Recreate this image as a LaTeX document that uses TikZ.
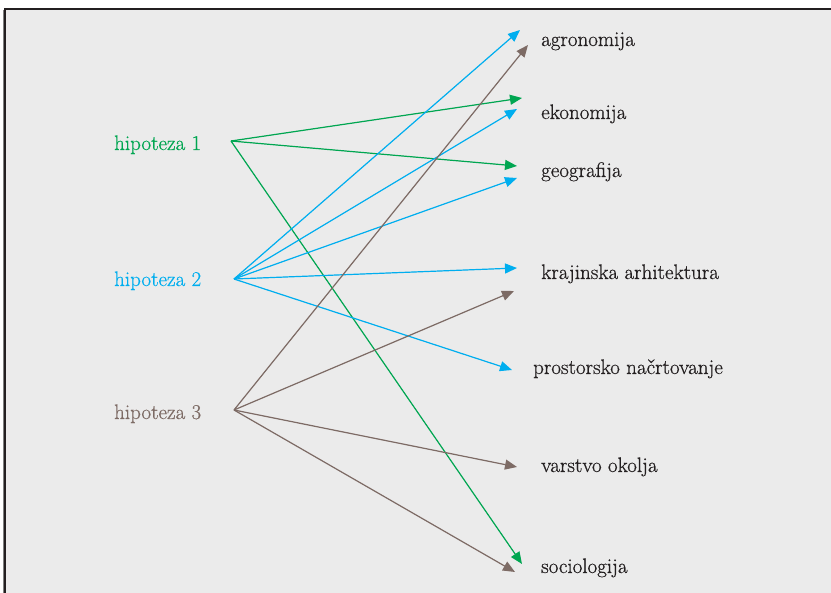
\documentclass[tikz,border=0pt]{standalone}
\usepackage{fontspec}
\setmainfont{Latin Modern Roman}[FakeBold=0.6]
\usetikzlibrary{arrows.meta}
\definecolor{bggray}{HTML}{EBEBEB}
\definecolor{hgreen}{HTML}{00A651}
\definecolor{hblue}{HTML}{00AEEF}
\definecolor{hbrown}{HTML}{7D6B65}
\definecolor{txtdark}{HTML}{231F20}
\tikzset{
  lbl/.style={inner sep=0pt, anchor=base west, font=\fontsize{21}{25}\selectfont},
  target/.style={lbl, text=txtdark},
  link/.style={line width=1.2pt, -{Triangle[length=12pt,width=10pt]}},
  glink/.style={link, draw=hgreen, fill=hgreen},
  blink/.style={link, draw=hblue, fill=hblue},
  rlink/.style={link, draw=hbrown, fill=hbrown},
}
\begin{document}
\begin{tikzpicture}[x=1pt,y=-1pt]
\useasboundingbox (0,0) rectangle (831,593);
% panel
\fill[bggray] (5,9) rectangle (840,600);
\draw[line width=2pt, txtdark] (5,600) -- (5,9) -- (840,9);
\draw[line width=1pt, gray] (3.5,10) -- (3.5,600);

% hypotheses
\node[lbl, text=hgreen] (h1) at (114,150) {hipoteza 1};
\node[lbl, text=hblue] (h2) at (114,286) {hipoteza 2};
\node[lbl, text=hbrown] (h3) at (114,419) {hipoteza 3};
\coordinate (s1) at (231,141);
\coordinate (s2) at (234,279);
\coordinate (s3) at (234,410);

% targets
\node[target] (agr) at (541,46) {agronomija};
\node[target] (eko) at (541,119) {ekonomija};
\node[target] (geo) at (541,177) {geografija};
\node[target] (kra) at (541,279) {krajinska arhitektura};
\node[target] (pro) at (533,374) {prostorsko načrtovanje};
\node[target] (var) at (541,472) {varstvo okolja};
\node[target] (soc) at (541,573) {sociologija};

% arrow tips
\coordinate (agrB) at (520,30);
\coordinate (agrR) at (528,45);
\coordinate (ekoG) at (522,98);
\coordinate (ekoB) at (517,109);
\coordinate (geoG) at (517,166);
\coordinate (geoB) at (517,178);
\coordinate (kraB) at (517,268);
\coordinate (kraR) at (514,291);
\coordinate (proB) at (512,370);
\coordinate (varR) at (517,467);
\coordinate (socG) at (522,564);
\coordinate (socR) at (515,572);

% hipoteza 1
\draw[glink] (s1) -- (ekoG);
\draw[glink] (s1) -- (geoG);
\draw[glink] (s1) -- (socG);
% hipoteza 2
\draw[blink] (s2) -- (agrB);
\draw[blink] (s2) -- (ekoB);
\draw[blink] (s2) -- (geoB);
\draw[blink] (s2) -- (kraB);
\draw[blink] (s2) -- (proB);
% hipoteza 3
\draw[rlink] (s3) -- (agrR);
\draw[rlink] (s3) -- (kraR);
\draw[rlink] (s3) -- (varR);
\draw[rlink] (s3) -- (socR);
\end{tikzpicture}
\end{document}
